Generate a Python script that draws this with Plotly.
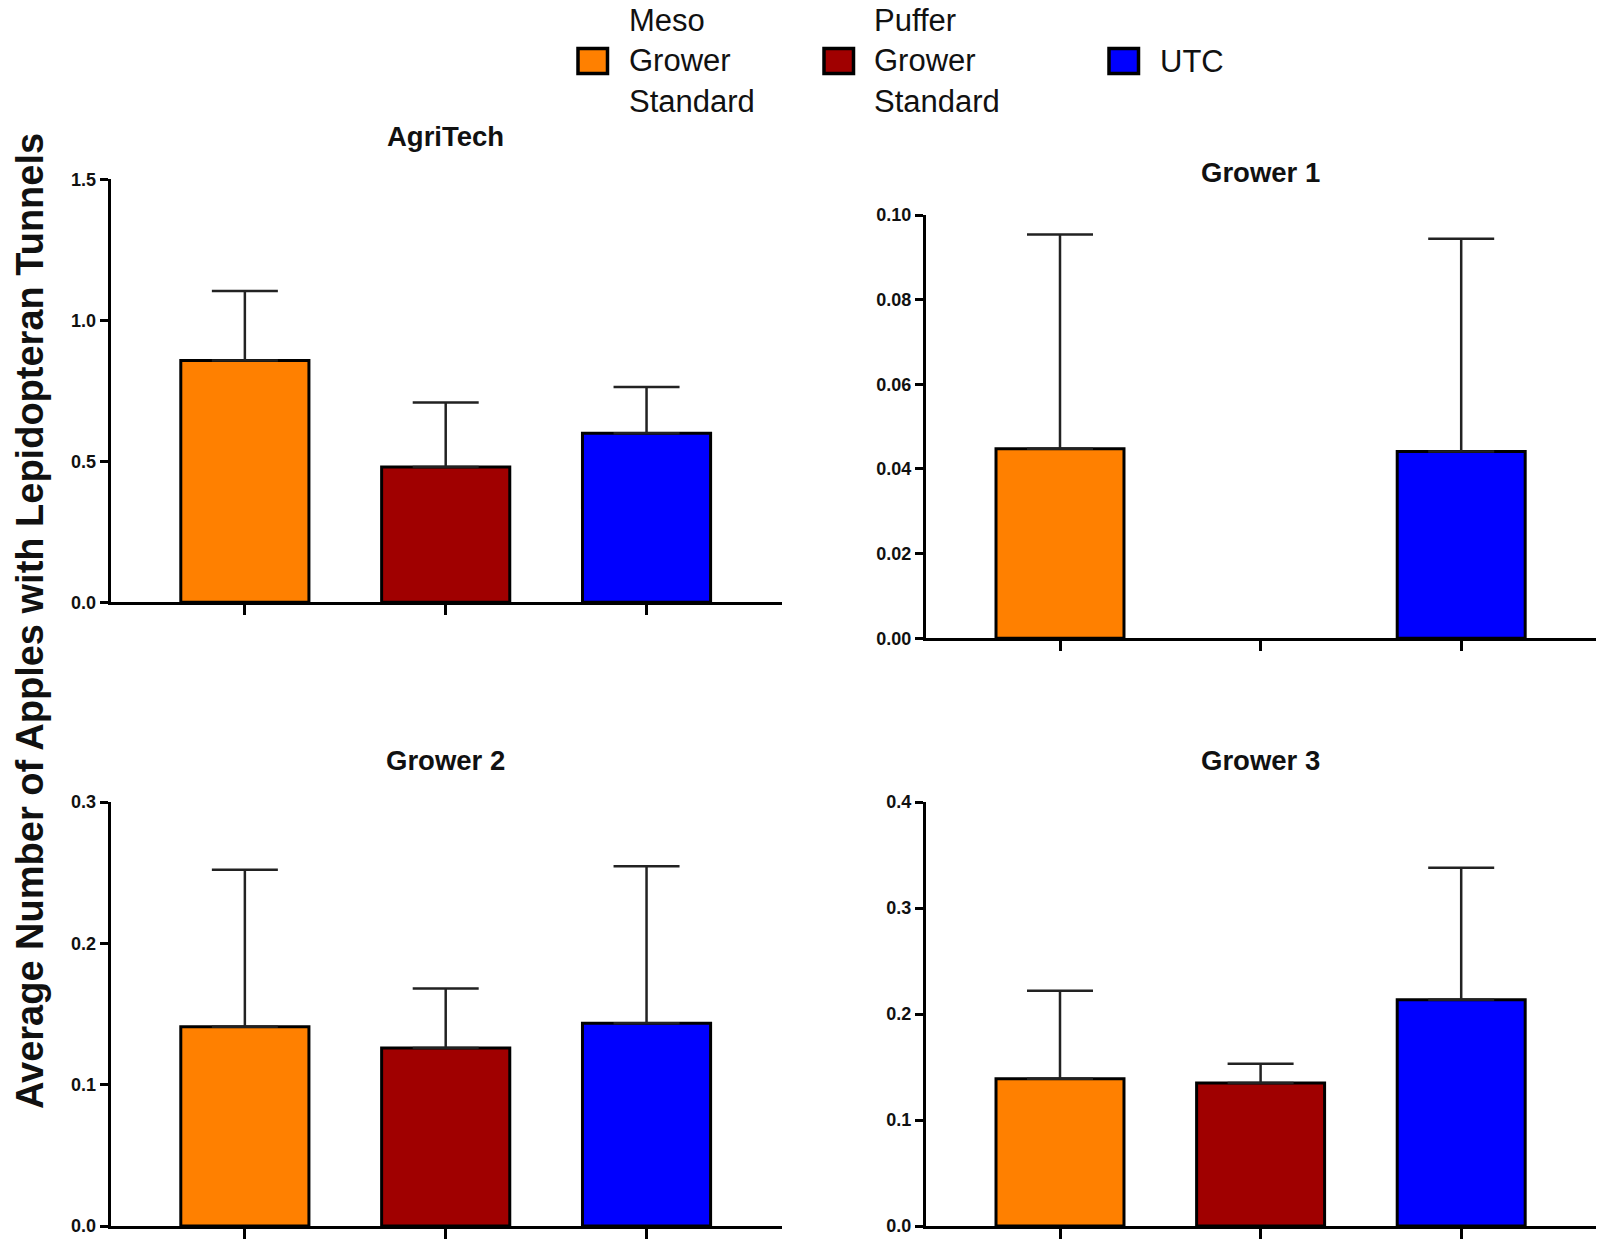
import plotly.graph_objects as go

W, H = 1606, 1247

# ---------------- data ----------------
treatments = ["Meso Grower Standard", "Puffer Grower Standard", "UTC"]
legend_labels = ["Meso<br>Grower<br>Standard", "Puffer<br>Grower<br>Standard", "UTC"]
colors = ["#FF8000", "#A00000", "#0000FF"]

sites = ["AgriTech", "Grower 1", "Grower 2", "Grower 3"]

agritech_mean = [0.857, 0.480, 0.599]
agritech_err = [0.247, 0.228, 0.164]

grower1_mean = [0.0448, 0.0, 0.0441]
grower1_err = [0.0506, 0.0, 0.0503]

grower2_mean = [0.141, 0.126, 0.1435]
grower2_err = [0.111, 0.042, 0.111]

grower3_mean = [0.139, 0.135, 0.2135]
grower3_err = [0.083, 0.018, 0.1245]

y_max = [1.5, 0.10, 0.3, 0.4]
y_dtick = [0.5, 0.02, 0.1, 0.1]
y_fmt = [".1f", ".2f", ".1f", ".1f"]

y_title = "Average Number of Apples with Lepidopteran Tunnels"

means = [agritech_mean, grower1_mean, grower2_mean, grower3_mean]
errs = [agritech_err, grower1_err, grower2_err, grower3_err]

# ---------------- layout helpers (pixel -> paper) ----------------
def px(x):
    return x / W


def py(y):
    return 1 - y / H


FONT = "Liberation Sans, Arial, sans-serif"

# panel pixel boxes: (left, right, top, bottom)
boxes = [
    (110.7, 781.5, 179.2, 602.3),
    (926.0, 1596.0, 215.0, 638.3),
    (110.7, 781.5, 802.0, 1226.0),
    (926.0, 1596.0, 802.0, 1226.0),
]
title_pos = [(445.5, 136), (1260.5, 172), (445.5, 760), (1260.5, 760)]

fig = go.Figure()
xcat = [0, 1, 2]

for i in range(4):
    ax = "" if i == 0 else str(i + 1)
    for j in range(3):
        has_bar = means[i][j] > 0
        fig.add_trace(go.Bar(
            x=[xcat[j]], y=[means[i][j]],
            width=0.638,
            marker=dict(color=colors[j],
                        line=dict(color="black", width=3 if has_bar else 0)),
            error_y=dict(type="data", array=[errs[i][j]], arrayminus=[0],
                         symmetric=False, color="#222222", thickness=2.5, width=33,
                         visible=errs[i][j] > 0),
            name=treatments[j], showlegend=False,
            xaxis="x" + ax, yaxis="y" + ax,
        ))

layout = dict(
    template="none",
    width=W, height=H,
    margin=dict(l=0, r=0, t=0, b=0, pad=0, autoexpand=False),
    paper_bgcolor="white", plot_bgcolor="white",
    font=dict(family=FONT, color="black"),
    barmode="overlay",
    showlegend=False,
)

for i in range(4):
    l, r, t, b = boxes[i]
    ax = "" if i == 0 else str(i + 1)
    layout["xaxis" + ax] = dict(
        domain=[px(l), px(r)], anchor="y" + ax, automargin=False,
        range=[-0.668, 2.672], tickvals=xcat, showticklabels=False,
        ticks="outside", ticklen=10, tickwidth=3, tickcolor="black",
        showline=True, linewidth=3, linecolor="black",
        showgrid=False, zeroline=False, fixedrange=True,
    )
    layout["yaxis" + ax] = dict(
        domain=[py(b), py(t)], anchor="x" + ax, automargin=False,
        range=[0, y_max[i]], dtick=y_dtick[i], tick0=0, tickformat=y_fmt[i],
        ticks="outside", ticklen=8, tickwidth=3, tickcolor="black",
        tickfont=dict(family=FONT, size=18, color="#111111", weight="bold"),
        showline=True, linewidth=3, linecolor="black",
        showgrid=False, zeroline=False, fixedrange=True,
    )

annotations = []
for i in range(4):
    tx, ty = title_pos[i]
    annotations.append(dict(
        text="<b>" + sites[i] + "</b>", x=px(tx), y=py(ty), xref="paper", yref="paper",
        xanchor="center", yanchor="middle", showarrow=False,
        font=dict(family=FONT, size=27.5, color="#111111"),
    ))

annotations.append(dict(
    text="<b>" + y_title + "</b>", x=px(30), y=py(621), xref="paper", yref="paper",
    xanchor="center", yanchor="middle", showarrow=False, textangle=-90,
    font=dict(family=FONT, size=38, color="#111111"),
))

# manual legend (large swatches)
sw_left = [578, 824, 1109]
sw_w, sw_top, sw_bot = 29.5, 48.5, 73.5
shapes = []
for j in range(3):
    shapes.append(dict(
        type="rect", xref="paper", yref="paper",
        x0=px(sw_left[j]), x1=px(sw_left[j] + sw_w), y0=py(sw_bot), y1=py(sw_top),
        fillcolor=colors[j], line=dict(color="black", width=3.5),
    ))
    annotations.append(dict(
        text=legend_labels[j], x=px(sw_left[j] + sw_w + 19), y=py(61),
        xref="paper", yref="paper", xanchor="left", yanchor="middle",
        align="left", showarrow=False,
        font=dict(family=FONT, size=31, color="#111111"),
    ))

layout["annotations"] = annotations
layout["shapes"] = shapes
fig.update_layout(**layout)

fig.write_html("out.html")
